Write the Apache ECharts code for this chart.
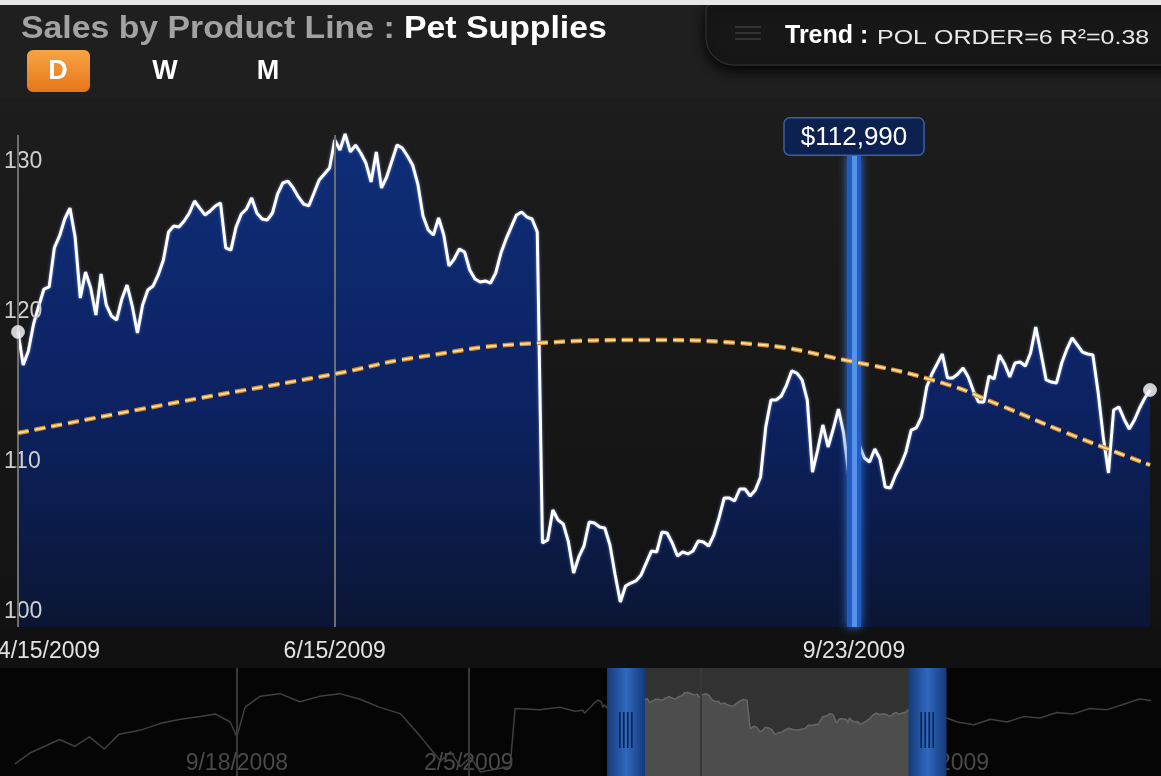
<!DOCTYPE html>
<html><head><meta charset="utf-8">
<script src="https://cdn.jsdelivr.net/npm/echarts@6/dist/echarts.min.js"></script>
<style>html,body{margin:0;padding:0;background:#1b1b1b;overflow:hidden}#c{width:1161px;height:776px}</style>
</head><body><div id="c"></div>
<script>
// ---------- DATA ----------
const titleLead = 'Sales by Product Line : ';
const titleName = 'Pet Supplies';
const periodButtons = ['D', 'W', 'M'];
const trendLabel = 'Trend :';
const trendInfo = 'POL ORDER=6 R²=0.38';

const startDate = '2009-04-15';           // first day of main view (daily values follow)
const salesK = [
118.67,116.47,117.40,119.20,120.40,121.53,121.67,124.27,125.07,126.20,
126.93,125.00,120.93,122.67,121.60,119.80,122.53,120.47,119.73,119.47,
120.87,121.80,120.40,118.60,120.47,121.47,121.73,122.47,123.47,125.33,
125.73,125.67,126.07,126.60,127.40,126.93,126.47,126.73,127.07,127.27,
124.27,124.13,125.67,126.53,126.87,127.60,126.60,126.20,126.13,126.60,
127.87,128.60,128.73,128.27,127.67,127.20,127.07,127.93,128.80,129.20,
129.60,131.47,130.80,131.87,130.67,131.13,130.60,129.93,128.67,130.67,
128.27,129.00,130.07,131.13,130.93,130.40,129.80,128.53,126.40,125.47,
125.13,126.27,125.13,123.07,123.53,124.20,124.00,122.80,122.20,122.00,
122.07,121.93,122.60,123.93,124.87,125.67,126.47,126.67,126.33,126.20,
125.33,104.60,104.80,106.80,106.13,105.87,104.67,102.60,103.67,104.40,
106.00,105.93,105.67,105.60,104.47,102.47,100.67,101.73,101.93,102.07,
102.47,103.27,104.07,104.00,105.33,105.27,104.60,103.73,104.00,103.87,
104.07,104.73,104.67,104.40,105.13,106.27,107.60,107.60,107.40,108.20,
108.20,107.73,108.13,109.00,112.33,114.13,114.13,114.40,115.13,116.07,
115.93,115.47,114.13,109.33,110.80,112.47,111.00,112.20,113.53,111.93,
109.20,112.99,111.13,110.27,110.00,110.87,110.20,108.33,108.27,109.13,
109.80,110.67,112.13,112.27,113.00,115.00,115.87,116.53,117.20,115.60,
115.60,115.87,116.27,115.67,114.73,114.00,114.00,115.73,115.53,117.13,
116.53,115.67,116.60,116.67,116.40,117.27,119.00,117.27,115.47,115.33,
115.27,116.60,117.53,118.27,117.80,117.33,117.20,117.13,114.67,111.67,
109.27,113.47,113.67,112.87,112.20,112.80,113.60,114.27,114.80];

const trendDates  = ['2009-04-15','2009-05-16','2009-06-15','2009-06-30','2009-07-24','2009-08-15','2009-09-01','2009-09-23','2009-10-10','2009-10-21','2009-11-03','2009-11-19'];
const trendValues = [111.93,114.00,115.87,116.93,117.93,118.13,117.93,116.67,115.27,113.80,111.93,109.80];

const xTickLabels = ['4/15/2009','6/15/2009','9/23/2009'];
const yTickLabels = [100,110,120,130];
const highlightDate = '9/23/2009';
const highlightValue = 112990;

// navigator (overview) data outside the main window
const navPreDates  = ['2008-05-07','2008-05-16','2008-05-25','2008-06-03','2008-06-12','2008-06-21','2008-06-30','2008-07-09','2008-07-22','2008-08-03','2008-08-15','2008-08-27','2008-09-05','2008-09-14','2008-09-18','2008-09-23','2008-10-02','2008-10-14','2008-10-26','2008-11-07','2008-11-19','2008-12-01','2008-12-13','2008-12-26','2009-01-07','2009-01-13','2009-01-19','2009-01-25','2009-01-31','2009-02-06','2009-02-12','2009-03-02','2009-03-05','2009-03-20','2009-04-01','2009-04-10'];
const navPreValues = [79,87,92,97,92,99,90,101,104,109,112,114,116,110,99,121,129,131,125,129,131,127,121,116,99,90,81,88,77,84,73,77,120,119,121,118];
const navPostDates  = ['2009-11-27','2009-12-07','2009-12-17','2009-12-27','2010-01-06','2010-01-16','2010-01-26','2010-02-05','2010-02-15','2010-02-25','2010-03-07','2010-03-17','2010-03-24'];
const navPostValues = [110,108,112,110,114,113,117,116,120,119,123,127,126];
const navRange = ['2008-04-28','2010-03-30'];
const navTickLabels = ['9/18/2008','2/5/2009','6/25/2009','11/12/2009'];
const navWindow = ['2009-05-11','2009-11-09'];

// ---------- HELPERS ----------
const DAY = 86400000;
const ts = s => { const p = s.split('-').map(Number); return Date.UTC(p[0], p[1]-1, p[2]); };
const mdy = s => { const p = s.split('/').map(Number); return Date.UTC(p[2], p[0]-1, p[1]); };
const fmt = v => { const d = new Date(v); return (d.getUTCMonth()+1) + '/' + d.getUTCDate() + '/' + d.getUTCFullYear(); };
const FONT = "'Liberation Sans', Helvetica, Arial, sans-serif";

const mainDates = salesK.map((_, i) => ts(startDate) + i * DAY);
const mainData = salesK.map((v, i) => [mainDates[i], v]);
const trendData = trendValues.map((v, i) => [ts(trendDates[i]), v]);
const navData = navPreValues.map((v, i) => [ts(navPreDates[i]), v])
  .concat(mainData)
  .concat(navPostValues.map((v, i) => [ts(navPostDates[i]), v]));
const winStart = ts(navWindow[0]), winEnd = ts(navWindow[1]);
const navWinData = navData.filter(p => p[0] >= winStart && p[0] <= winEnd);
const hlTs = mdy(highlightDate);

const chart = echarts.init(document.getElementById('c'), null, {renderer: 'canvas'});

const btnX = [58, 165, 268];
const baseGraphic = [
  {type: 'rect', z: -10, shape: {x: 0, y: 0, width: 1161, height: 98}, style: {fill: '#1f1f1f'}},
  {type: 'rect', z: -10, shape: {x: 0, y: 98, width: 1161, height: 530},
   style: {fill: new echarts.graphic.LinearGradient(0, 0, 0, 1, [{offset: 0, color: '#1d1d1d'}, {offset: 1, color: '#121212'}])}},
  {type: 'rect', z: -10, shape: {x: 0, y: 628, width: 1161, height: 40}, style: {fill: '#111111'}},
  {type: 'rect', z: -10, shape: {x: 0, y: 668, width: 1161, height: 108}, style: {fill: '#050505'}},
  // title
  {type: 'text', z: 20, x: 21, y: 29, scaleX: 1.09,
   style: {text: '{a|' + titleLead + '}{b|' + titleName + '}', verticalAlign: 'middle',
     rich: {a: {fill: '#a2a2a2', fontSize: 31, fontWeight: 'bold', fontFamily: FONT},
            b: {fill: '#ffffff', fontSize: 31, fontWeight: 'bold', fontFamily: FONT}}}},
  // trend tab
  {type: 'rect', z: 20, shape: {x: 706, y: 4, width: 470, height: 61, r: [6, 0, 0, 28]},
   style: {fill: '#171717', stroke: '#2b2b2b', lineWidth: 1.5, shadowBlur: 12, shadowColor: 'rgba(0,0,0,0.9)', shadowOffsetY: 5}},
  {type: 'rect', z: 21, shape: {x: 735, y: 26, width: 26, height: 2}, style: {fill: '#333'}},
  {type: 'rect', z: 21, shape: {x: 735, y: 32, width: 26, height: 2}, style: {fill: '#333'}},
  {type: 'rect', z: 21, shape: {x: 735, y: 38, width: 26, height: 2}, style: {fill: '#333'}},
  {type: 'text', z: 22, x: 785, y: 36, style: {text: trendLabel, verticalAlign: 'middle', fill: '#ffffff', fontSize: 25, fontWeight: 'bold', fontFamily: FONT}},
  {type: 'text', z: 22, x: 877, y: 38, scaleX: 1.19, style: {text: trendInfo, verticalAlign: 'middle', fill: '#e8e8e8', fontSize: 21, fontFamily: FONT}},
  // top white strip
  {type: 'rect', z: 40, shape: {x: 0, y: 0, width: 1161, height: 5}, style: {fill: '#e6e6e6'}},
  // D W M
  {type: 'rect', z: 20, shape: {x: 27, y: 50, width: 63, height: 42, r: 6},
   style: {fill: new echarts.graphic.LinearGradient(0, 0, 0, 1, [{offset: 0, color: '#f7a444'}, {offset: 1, color: '#e6761a'}])}}
].concat(periodButtons.map((b, i) => ({type: 'text', z: 21, x: btnX[i], y: 72,
  style: {text: b, fill: '#fff', fontSize: 27, fontWeight: 'bold', fontFamily: FONT, align: 'center', verticalAlign: 'middle'}})));

const firstTick = mdy(xTickLabels[0]);
const option = {
  animation: false,
  backgroundColor: 'transparent',
  grid: [
    {left: 18, right: 11, top: 102, bottom: 149, containLabel: false, outerBoundsMode: 'none'},
    {left: 0, right: 0, top: 668, bottom: 0, containLabel: false, outerBoundsMode: 'none'}
  ],
  xAxis: [
    {type: 'value', gridIndex: 0, min: mainDates[0], max: mainDates[mainDates.length-1],
     axisLine: {show: false}, axisTick: {show: false}, splitLine: {show: false},
     axisLabel: {customValues: xTickLabels.map(mdy),
       formatter: v => v === firstTick ? '{m|' + fmt(v) + '}' : fmt(v),
       rich: {m: {padding: [0, 0, 0, 62], color: '#e2e2e2', fontSize: 23, fontFamily: FONT}},
       color: '#e2e2e2', fontSize: 23, fontFamily: FONT, margin: 13, alignMinLabel: 'center'}},
    {type: 'value', gridIndex: 1, min: ts(navRange[0]), max: ts(navRange[1]),
     axisLine: {show: false}, axisTick: {show: false}, splitLine: {show: false},
     axisLabel: {customValues: navTickLabels.map(mdy), formatter: v => fmt(v), inside: true, color: '#4a4a4a',
       fontSize: 23, fontFamily: FONT, margin: 1}}
  ],
  yAxis: [
    {type: 'value', gridIndex: 0, min: 99, max: 134, z: 4,
     axisLine: {show: false}, axisTick: {show: false}, splitLine: {show: false},
     axisLabel: {customValues: yTickLabels, inside: true, margin: -14, color: '#d0d0d0', fontSize: 23, fontFamily: FONT}},
    {type: 'value', gridIndex: 1, min: 70, max: 150, show: false}
  ],
  series: [
    { // main area line
      type: 'line', xAxisIndex: 0, yAxisIndex: 0, data: mainData, showSymbol: false, z: 3,
      lineStyle: {color: '#ffffff', width: 3, shadowColor: 'rgba(140,170,255,0.7)', shadowBlur: 3},
      areaStyle: {origin: 'start', opacity: 1, color: new echarts.graphic.LinearGradient(0, 0, 0, 1, [
        {offset: 0, color: '#0f2e78'}, {offset: 0.55, color: '#0c2262'}, {offset: 1, color: '#0b1634'}])},
      markLine: {silent: true, symbol: 'none', animation: false, label: {show: false},
        lineStyle: {color: '#6e6e6e', width: 2, type: 'solid'},
        data: xTickLabels.filter(l => l !== highlightDate).map(l => [{coord: [mdy(l), 131.8]}, {coord: [mdy(l), 99]}])}
    },
    { // trend outer
      type: 'line', xAxisIndex: 0, yAxisIndex: 0, data: trendData, smooth: true, showSymbol: false, z: 5,
      lineStyle: {color: '#d8891f', width: 4.5, type: [11, 6]}
    },
    { // trend inner
      type: 'line', xAxisIndex: 0, yAxisIndex: 0, data: trendData, smooth: true, showSymbol: false, z: 5,
      lineStyle: {color: '#f6dfa6', width: 2, type: [11, 6]}
    },
    { // highlight line
      type: 'line', xAxisIndex: 0, yAxisIndex: 0, data: [], z: 6,
      markLine: {silent: true, symbol: 'none', animation: false,
        data: [
          [{coord: [hlTs, 99], lineStyle: {color: '#245cc0', width: 14, type: 'solid', shadowColor: '#3673dc', shadowBlur: 10}},
           {coord: [hlTs, 130.5]}],
          [{coord: [hlTs, 99], lineStyle: {color: '#5593ea', width: 5, type: 'solid'}, label: {show: false}},
           {coord: [hlTs, 130.5]}]
        ],
        label: {show: true, position: 'end', distance: 0, formatter: '$' + highlightValue.toLocaleString('en-US'),
          color: '#ffffff', fontSize: 26, fontFamily: FONT, backgroundColor: '#0c2150',
          borderColor: '#3d5f9e', borderWidth: 1.5, borderRadius: 5, padding: [6, 16, 4, 16]}
      }
    },
    { // end points
      type: 'scatter', xAxisIndex: 0, yAxisIndex: 0, z: 7, symbolSize: 13,
      itemStyle: {color: '#ffffff', borderColor: '#cfd8ea', borderWidth: 1},
      data: [mainData[0], mainData[mainData.length-1]]
    },
    { // navigator line
      type: 'line', xAxisIndex: 1, yAxisIndex: 1, data: navData, showSymbol: false, z: 2,
      lineStyle: {color: '#404040', width: 1.5},
      markLine: {silent: true, symbol: 'none', label: {show: false}, lineStyle: {color: '#383838', width: 2, type: 'solid'},
        data: navTickLabels.map(l => ({xAxis: mdy(l)}))},
      markArea: {silent: true, itemStyle: {color: '#323232'}, data: [[{xAxis: winStart}, {xAxis: winEnd}]]}
    },
    { // navigator window area
      type: 'line', xAxisIndex: 1, yAxisIndex: 1, data: navWinData, showSymbol: false, z: 3,
      lineStyle: {color: '#666666', width: 1.5},
      areaStyle: {origin: 'start', color: '#4d4d4d', opacity: 1}
    }
  ],
  graphic: baseGraphic
};
chart.setOption(option);

// navigator handles centred on the window edges
const xl = chart.convertToPixel({xAxisIndex: 1}, winStart);
const xr = chart.convertToPixel({xAxisIndex: 1}, winEnd);
const hw = 38;
const handleFill = () => new echarts.graphic.LinearGradient(0, 0, 1, 0, [
  {offset: 0, color: '#163a78'}, {offset: 0.5, color: '#2f68bf'}, {offset: 1, color: '#163a78'}]);
const handle = cx => [{type: 'rect', z: 30, shape: {x: cx - hw/2, y: 668, width: hw, height: 108}, style: {fill: handleFill()}}]
  .concat([0, 1, 2, 3].map(k => ({type: 'rect', z: 31, shape: {x: cx - 7 + k*4, y: 712, width: 1.5, height: 36}, style: {fill: '#0b1d3d'}})));
chart.setOption({graphic: baseGraphic.concat(handle(xl)).concat(handle(xr))});
</script></body></html>
